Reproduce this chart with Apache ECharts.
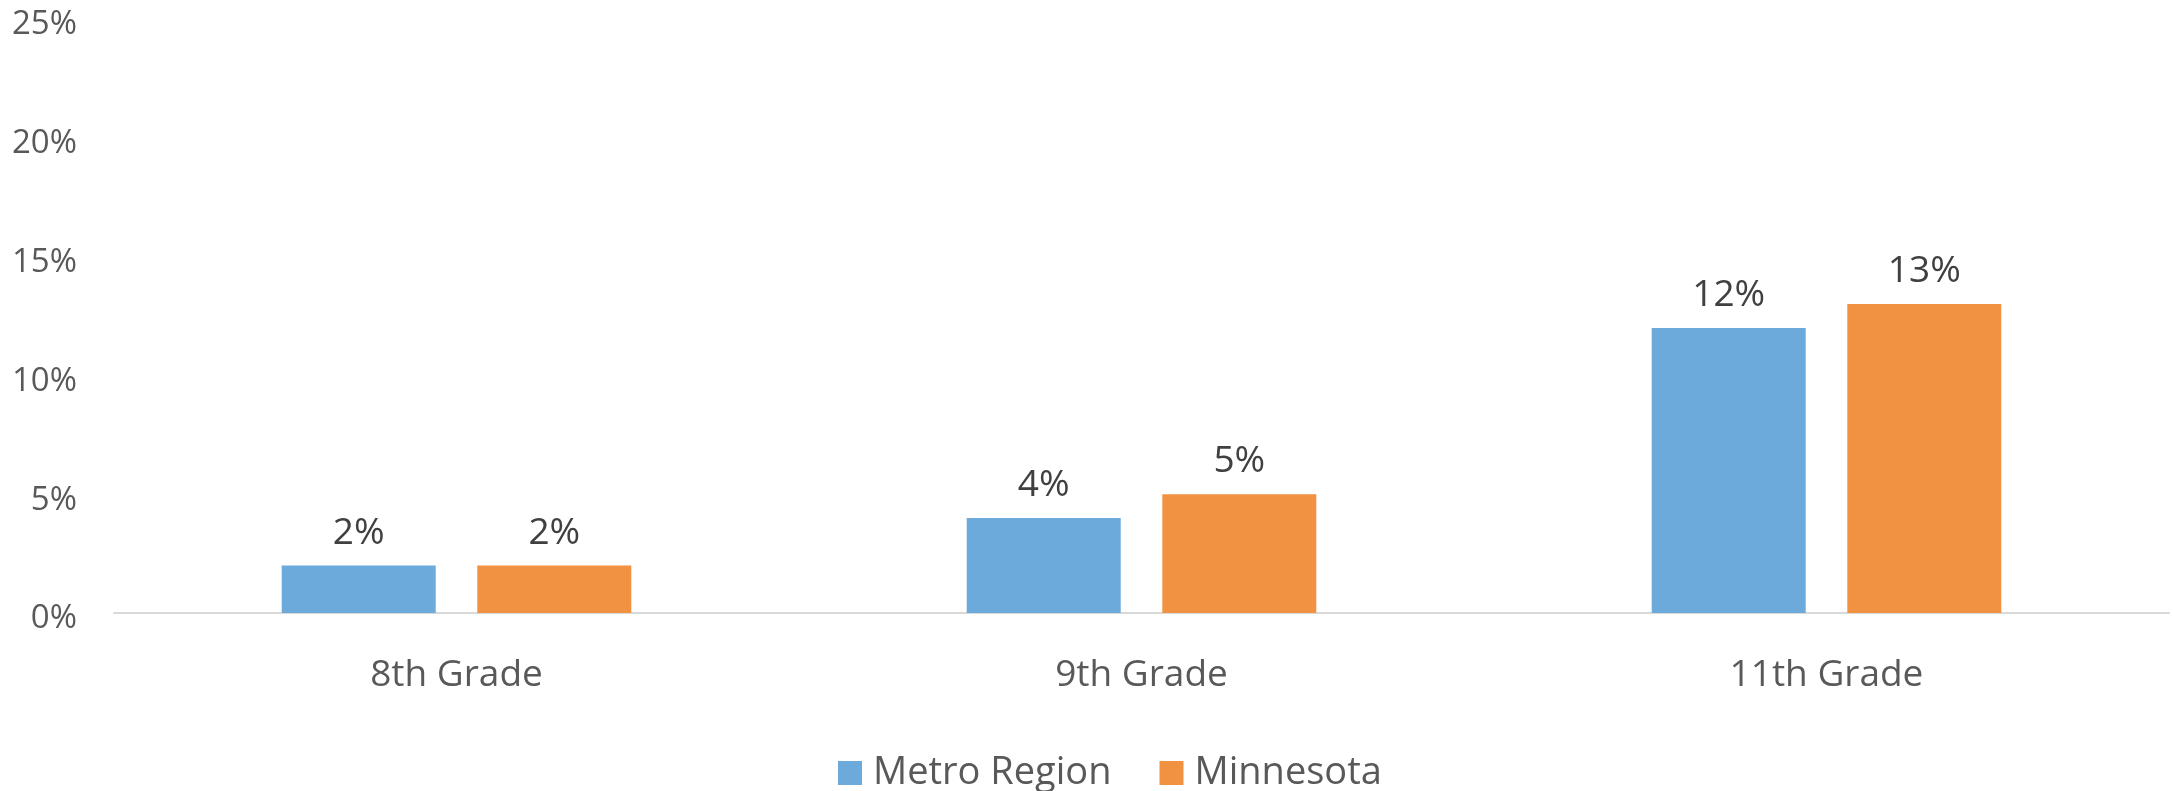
<!DOCTYPE html>
<html>
<head>
<meta charset="utf-8">
<title>Metro Region vs Minnesota</title>
<script src="https://cdn.jsdelivr.net/npm/echarts@6/dist/echarts.min.js"></script>
<style>
  html, body { margin: 0; padding: 0; background: #fff; }
  #main { width: 2173px; height: 791px; }
</style>
</head>
<body>
<div id="main"></div>
<script>
// categories
const grades = ['8th Grade', '9th Grade', '11th Grade']
// series values (percent)
const metroRegion = [2, 4, 12]
const minnesota = [2, 5, 13]
// y axis
const yMin = 0
const yMax = 25
const yStep = 5

const myChart = echarts.init(document.getElementById('main'))

const labelStyle = {
  show: true,
  position: 'top',
  distance: 14,
  formatter: '{c}%',
  color: '#404040',
  fontSize: 37,
  fontFamily: 'Open Sans'
}

const option = {
  animation: false,
  textStyle: { fontFamily: 'Open Sans' },
  grid: {
    left: 114,
    right: 4,
    top: 19,
    bottom: 178,
    containLabel: false
  },
  legend: {
    left: 833,
    top: 749,
    itemWidth: 24,
    itemHeight: 24,
    itemGap: 48,
    icon: 'rect',
    textStyle: { color: '#595959', fontSize: 38, padding: [0, 0, 0, 6] },
    data: ['Metro Region', 'Minnesota']
  },
  xAxis: {
    type: 'category',
    data: grades,
    axisLine: { lineStyle: { color: '#d9d9d9', width: 2 } },
    axisTick: { show: false },
    axisLabel: { color: '#595959', fontSize: 37, margin: 44 }
  },
  yAxis: {
    type: 'value',
    min: yMin,
    max: yMax,
    interval: yStep,
    axisLine: { show: false },
    axisTick: { show: false },
    splitLine: { show: false },
    // labels sit a little below their tick in the original
    axisLabel: {
      color: '#595959',
      fontSize: 33,
      margin: 37,
      verticalAlign: 'top',
      lineHeight: 12,
      formatter: '{value}%'
    }
  },
  series: [
    {
      name: 'Metro Region',
      type: 'bar',
      data: metroRegion,
      barWidth: 154,
      barGap: '27%',
      itemStyle: { color: '#6BAADB' },
      label: labelStyle
    },
    {
      name: 'Minnesota',
      type: 'bar',
      data: minnesota,
      barWidth: 154,
      itemStyle: { color: '#F19242' },
      label: labelStyle
    }
  ]
}

myChart.setOption(option)
</script>
</body>
</html>
